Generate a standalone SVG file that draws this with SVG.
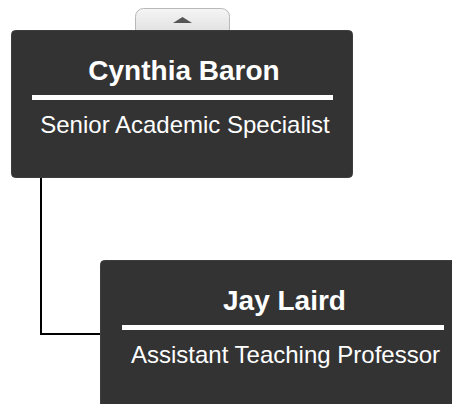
<svg xmlns="http://www.w3.org/2000/svg" width="452" height="404" viewBox="0 0 452 404">
  <style>
    .box { fill: #333333; stroke: #3d3d3d; stroke-width: 1; }
    .name { font-family: "Liberation Sans", Arial, sans-serif; font-weight: bold; font-size: 28px; fill: #ffffff; text-anchor: middle; }
    .title { font-family: "Liberation Sans", Arial, sans-serif; font-size: 24px; fill: #ffffff; text-anchor: middle; }
    .divider { fill: #ffffff; }
    .conn { fill: none; stroke: #000000; stroke-width: 2; }
  </style>
  <defs>
    <linearGradient id="btnGrad" x1="0" y1="0" x2="0" y2="1">
      <stop offset="0" stop-color="#f5f5f5"/>
      <stop offset="1" stop-color="#dadada"/>
    </linearGradient>
  </defs>
  <rect width="452" height="404" fill="#ffffff"/>
  <g id="expand-button">
    <rect x="135.5" y="8.5" width="94" height="32" rx="8" ry="8" fill="url(#btnGrad)" stroke="#b8b8b8" stroke-width="1"/>
    <polygon points="173,23 192,23 182.5,17" fill="#555555"/>
  </g>
  <g id="connectors">
    <path class="conn" d="M41,178 V334 H101"/>
  </g>
  <g id="node-cynthia-baron">
    <rect class="box" x="11.5" y="30.5" width="341" height="147" rx="4" ry="4"/>
    <text class="name" x="184" y="80">Cynthia Baron</text>
    <rect class="divider" x="32" y="95" width="301" height="5"/>
    <text class="title" x="185" y="133">Senior Academic Specialist</text>
  </g>
  <g id="node-jay-laird">
    <rect class="box" x="100.5" y="260.5" width="370" height="160" rx="4" ry="4"/>
    <text class="name" x="284.5" y="310">Jay Laird</text>
    <rect class="divider" x="122" y="325" width="322" height="5"/>
    <text class="title" x="285.5" y="363">Assistant Teaching Professor</text>
  </g>
</svg>
